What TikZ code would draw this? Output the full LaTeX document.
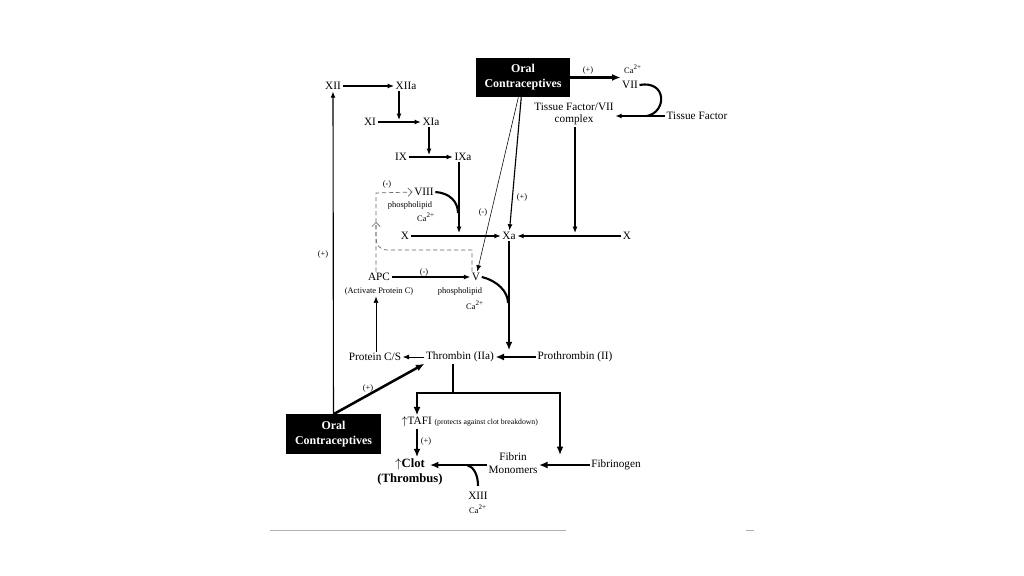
\documentclass[tikz,border=0pt]{standalone}
\usepackage{fontspec}
\setmainfont{Liberation Serif}
\usetikzlibrary{arrows.meta}
\newcommand{\cat}{Ca\textsuperscript{2+}}

\begin{document}
\begin{tikzpicture}[x=0.025cm, y=-0.025cm,
  every node/.style={font=\fontsize{8}{9}\selectfont, inner sep=1pt},
  small/.style={font=\fontsize{6}{7}\selectfont},
  ocbox/.style={fill=black, text=white, align=center, minimum width=2.35cm, minimum height=0.975cm, font=\fontsize{8.5}{10.5}\selectfont\bfseries},
  arr/.style={-{Latex[length=4.5pt,width=3.5pt]}, line width=0.8pt},
  tharr/.style={-{Latex[length=6pt,width=5pt]}, line width=1.8pt},
  thinarr/.style={-{Latex[length=4.5pt,width=3.5pt]}, line width=0.4pt},
  dasharr/.style={densely dashed, -{Straight Barb[length=3pt]}, line width=0.5pt, black!60}]

\useasboundingbox (0,0) rectangle (1024,576);

\node (xii) at (333,86) {XII};
\node (xiia) at (406,86) {XIIa};
\node (xi) at (370,122) {XI};
\node (xia) at (431,122) {XIa};
\node (ix) at (401,157) {IX};
\node (ixa) at (463,157) {IXa};
\node (viii) at (424,192) {VIII};
\node[small] (viiip) at (410,205) {phospholipid};
\node[small] (viiica) at (426,217) {\cat};
\node (xl) at (405,236) {X};
\node (xa) at (509,236) {Xa};
\node (xr) at (627,236) {X};
\node[ocbox] (octop) at (523,77.5) {Oral\\Contraceptives};
\node[small] (ca7) at (633,69) {\cat};
\node (vii) at (630,85) {VII};
\node[align=center] (tf7) at (574,114) {Tissue Factor/VII\\complex};
\node (tf) at (697,116) {Tissue Factor};
\node (apc) at (379,277) {APC};
\node[small] (apcl) at (379,291) {(Activate Protein C)};
\node (v) at (476,277) {V};
\node[small] (vp) at (460,291) {phospholipid};
\node[small] (vca) at (475,305) {\cat};
\node (pcs) at (375,357) {Protein C/S};
\node (thr) at (460,357) {Thrombin (IIa)};
\node (pthr) at (575,357) {Prothrombin (II)};
\node[ocbox] (ocbot) at (333.5,434) {Oral\\Contraceptives};
\node[anchor=west] (tafi) at (400,422) {$\uparrow$TAFI {\fontsize{5.5}{6}\selectfont (protects against clot breakdown)}};
\node[align=center, font=\fontsize{9}{10.5}\selectfont\bfseries] (clot) at (410,472) {$\uparrow$Clot\\(Thrombus)};
\node[align=center] (fib) at (513,463) {Fibrin\\Monomers};
\node (fgen) at (616,465) {Fibrinogen};
\node (xiii) at (478,496) {XIII};
\node[small] (xiiica) at (478,509) {\cat};

\node[small] (p1) at (588,70) {(+)};
\node[small] (p2) at (522,197) {(+)};
\node[small] (m1) at (483,212) {(-)};
\node[small] (m2) at (387,184) {(-)};
\node[small] (m3) at (424,272) {(-)};
\node[small] (p3) at (323,254) {(+)};
\node[small] (p4) at (368,388) {(+)};
\node[small] (p5) at (426,441) {(+)};

\coordinate (j1) at (399,120);
\coordinate (j2) at (429,155);
\coordinate (j3) at (459,233);
\coordinate (j4) at (575,233);
\coordinate (j5) at (508,303);
\coordinate (j6) at (647,116);
\coordinate (j7) at (467,465);
\coordinate (x13) at (478,486);
\coordinate (br) at (453,393);
\coordinate (bl) at (417,393);
\coordinate (fend) at (560,455);
\coordinate (ct) at (430,465);
\coordinate (dl) at (376,193);
\coordinate (dv) at (472,250);
\coordinate (dc) at (376,222);

\begin{scope}[arr]
\draw (xii) -- (xiia); %xii-xiia
\draw (xi) -- (xia); %xi-xia
\draw (ix) -- (ixa); %ix-ixa
\draw (xiia.south -| j1) -- (j1); %xiia-xi
\draw (xia.south -| j2) -- (j2); %xia-ix
\draw (ixa.south -| j3) -- (j3); %ixa-x
\draw (xl) -- (xa); %x-xa
\draw (xr) -- (xa); %x-xa
\draw (tf7.south -| j4) -- (j4); %tf7-x
\draw (octop) -- (xa); %oc-xa
\draw (apc) -- (v); %apc-v
\draw (tf.west) -- (tf.west -| tf7.east); %tf-tf7
\draw (ocbot) -- (xii); %oc-xii
\end{scope}

\begin{scope}[thinarr]
\draw (octop) -- (v); %oc-v
\draw (thr) -- (pcs); %thr-pcs
\draw (pcs.north -| dl) -- (apcl.south -| dl); %pcs-apc
\end{scope}

\begin{scope}[tharr]
\draw (octop.east) -- (octop.east -| vii.west); %oc-vii
\draw (xa.south) -- (xa.south |- thr.north); %xa-thr
\draw (pthr) -- (thr); %pthr-thr
\draw (ocbot.north) -- (thr.south west); %oc-thr
\draw (thr.south -| br) -- (br) -| (tafi.north -| bl); %thr-tafi
\draw (br) -| (fend); %thr-fib
\draw (tafi.south -| bl) -- (clot.north -| bl); %tafi-clot
\draw (fgen) -- (fib.east |- fgen); %fgen-fib
\draw (fib.west |- fgen) -- (ct); %fib-clot
\end{scope}

\begin{scope}[line width=1.5pt]
\draw (vii.east) .. controls (667,80) and (667,112) .. (j6); %vii-tf7
\draw (viii.east) .. controls (450,193) and (458,202) .. (458,213); %viii-x
\draw (v.east) .. controls (498,281) and (508,292) .. (j5); %v-xa
\draw (x13) .. controls (478,475) and (474,467) .. (j7); %xiii-clot
\end{scope}

\begin{scope}[dasharr]
\draw (apc.north -| dl) -- (dl) -- (viii.west); %apc-viii
\draw (v.north -| dv) -- (dv) -- (388,250) .. controls (379,250) and (376,245) .. (376,236) -- (dc); %v-viii
\end{scope}

\draw[black!30, line width=0.6pt] (270,530) -- (566,530);
\draw[black!30, line width=0.6pt] (746,530) -- (754,530);

\end{tikzpicture}
\end{document}
